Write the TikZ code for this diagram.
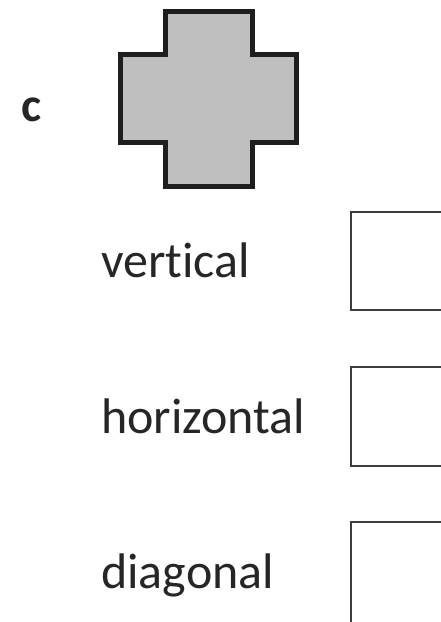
\documentclass[tikz,border=0pt]{standalone}
\usepackage{fontspec}
\setmainfont[Ligatures={NoCommon},RawFeature={-liga}]{Carlito}
\definecolor{crossfill}{RGB}{191,191,191}
\definecolor{crossline}{RGB}{30,30,30}
\definecolor{boxline}{RGB}{60,60,60}
\begin{document}
\begin{tikzpicture}[x=1pt,y=-1pt,
  lbl/.style={anchor=base west,inner sep=0pt,font=\fontsize{50}{60}\selectfont,text=black!85},
  answerbox/.style={draw=boxline,line width=2pt},
  shapeline/.style={draw=crossline,fill=crossfill,line width=5pt,line join=miter}]
\useasboundingbox (0,0) rectangle (441,622);
\node[lbl,font=\fontsize{48}{58}\selectfont\bfseries] (c) at (21,121) {c};
\draw[shapeline] (165,11.5) -- (252,11.5) -- (252,54.5) -- (296.5,54.5) -- (296.5,142.5) -- (252,142.5) -- (252,186.5) -- (165,186.5) -- (165,142.5) -- (120,142.5) -- (120,54.5) -- (165,54.5) -- cycle;
\node[lbl] (v) at (101,277) {vertical};
\node[lbl] (h) at (101,433) {horizontal};
\node[lbl] (d) at (101,588) {diagonal};
\draw[answerbox] (442,212) -- (351,212) -- (351,310) -- (442,310);
\draw[answerbox] (442,367) -- (351,367) -- (351,466) -- (442,466);
\draw[answerbox] (442,522) -- (351,522) -- (351,623);
\end{tikzpicture}
\end{document}
